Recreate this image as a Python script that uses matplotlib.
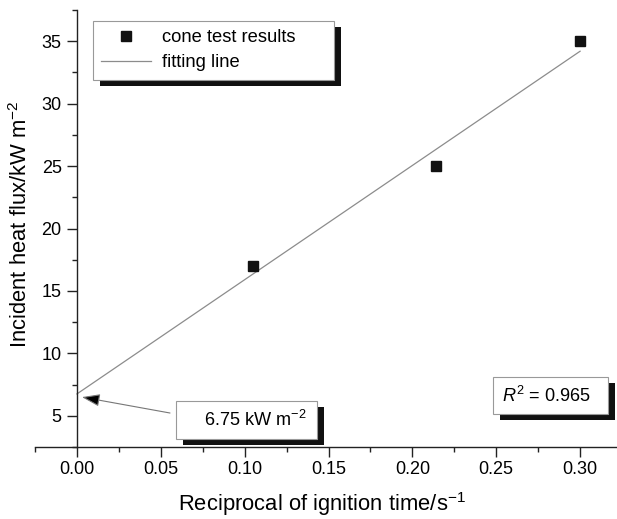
import numpy as np
import matplotlib
matplotlib.use("Agg")
import matplotlib.pyplot as plt
import matplotlib.patheffects as pe
from matplotlib.patches import Rectangle
from matplotlib.ticker import MultipleLocator

plt.rcParams['font.family'] = ['Liberation Sans', 'DejaVu Sans']
plt.rcParams['mathtext.fontset'] = 'custom'
plt.rcParams['mathtext.rm'] = 'Liberation Sans'
plt.rcParams['mathtext.it'] = 'Liberation Sans:italic'

# cone test data
recip_time = [0.105, 0.214, 0.300]
heat_flux = [17, 25, 35]

# fitted line
fit_x = [0.0, 0.300]
fit_intercept = 6.75
fit_slope = 91.5
r_squared = 0.965

fig = plt.figure(figsize=(6.17, 5.19), dpi=100)
ax = fig.add_axes([0.0567, 0.1387, 0.9433, 0.842])

fit_y = [fit_intercept + fit_slope * x for x in fit_x]
ax.plot(fit_x, fit_y, color='#8c8c8c', lw=0.9, label='fitting line')
ax.plot(recip_time, heat_flux, ls='none', marker='s', ms=7, color='#111111',
        label='cone test results')

ax.set_xlim(-0.025, 0.322)
ax.set_ylim(2.5, 37.5)
ax.spines['left'].set_position(('data', 0))
ax.spines['top'].set_visible(False)
ax.spines['right'].set_visible(False)
for s in ['left', 'bottom']:
    ax.spines[s].set_linewidth(1.0)
    ax.spines[s].set_color('#222222')

ax.xaxis.set_major_locator(MultipleLocator(0.05))
ax.xaxis.set_minor_locator(MultipleLocator(0.025))
ax.yaxis.set_major_locator(MultipleLocator(5))
ax.yaxis.set_minor_locator(MultipleLocator(2.5))
ax.set_yticks([5, 10, 15, 20, 25, 30, 35])
ax.xaxis.set_major_formatter(matplotlib.ticker.FormatStrFormatter('%.2f'))
ax.tick_params(which='major', length=7, width=1, labelsize=13, color='#222222')
ax.tick_params(which='minor', length=3.5, width=1, color='#222222')
ax.tick_params(axis='x', pad=3)
ax.tick_params(axis='y', pad=4)

ax.set_xlabel(r'Reciprocal of ignition time/s$^{-1}$', fontsize=15.8, va='center')
ax.set_ylabel(r'Incident heat flux/kW m$^{-2}$', fontsize=15.8, va='center')
ax.xaxis.set_label_coords(0.493, -0.131)
ax.yaxis.set_label_coords(-0.024, 0.51)

shadow = [pe.SimplePatchShadow(offset=(5, -4.5), shadow_rgbFace='#111111', alpha=1.0),
          pe.Normal()]

h, l = ax.get_legend_handles_labels()
l = [s + '      ' for s in l]
leg = ax.legend(h[::-1], l[::-1], loc='upper left', bbox_to_anchor=(0.0997, 0.975),
                borderaxespad=0, fontsize=13.2, fancybox=False, framealpha=1,
                edgecolor='#999999', handlelength=2.7, handletextpad=0.6,
                borderpad=0.45, labelspacing=0.45)
leg.get_frame().set_linewidth(0.8)
leg.get_frame().set_path_effects(shadow)

# intercept annotation box
box1 = Rectangle((0.2423, 0.0183), 0.2422, 0.087, transform=ax.transAxes,
                 fc='white', ec='#999999', lw=0.8, clip_on=False, zorder=5)
box1.set_path_effects(shadow)
ax.add_patch(box1)
ax.text(0.379, 0.0618, r'%.2f kW m$^{-2}$' % fit_intercept, transform=ax.transAxes,
        ha='center', va='center', fontsize=13.1, zorder=6)
ax.annotate('', xy=(0.003, 6.5), xycoords='data', xytext=(0.232, 0.0778),
            textcoords='axes fraction',
            arrowprops=dict(arrowstyle='-|>,head_length=1.1,head_width=0.38',
                            mutation_scale=10, fc='black', ec='#777777', lw=0.8,
                            shrinkA=0, shrinkB=0), zorder=6)

# R^2 box
box2 = Rectangle((0.787, 0.0755), 0.1975, 0.0845, transform=ax.transAxes,
                 fc='white', ec='#999999', lw=0.8, clip_on=False, zorder=5)
box2.set_path_effects(shadow)
ax.add_patch(box2)
ax.text(0.879, 0.1167, r'$R^2$ = %.3f' % r_squared, transform=ax.transAxes,
        ha='center', va='center', fontsize=13.1, zorder=6)

fig.savefig('out.png', dpi=100)
